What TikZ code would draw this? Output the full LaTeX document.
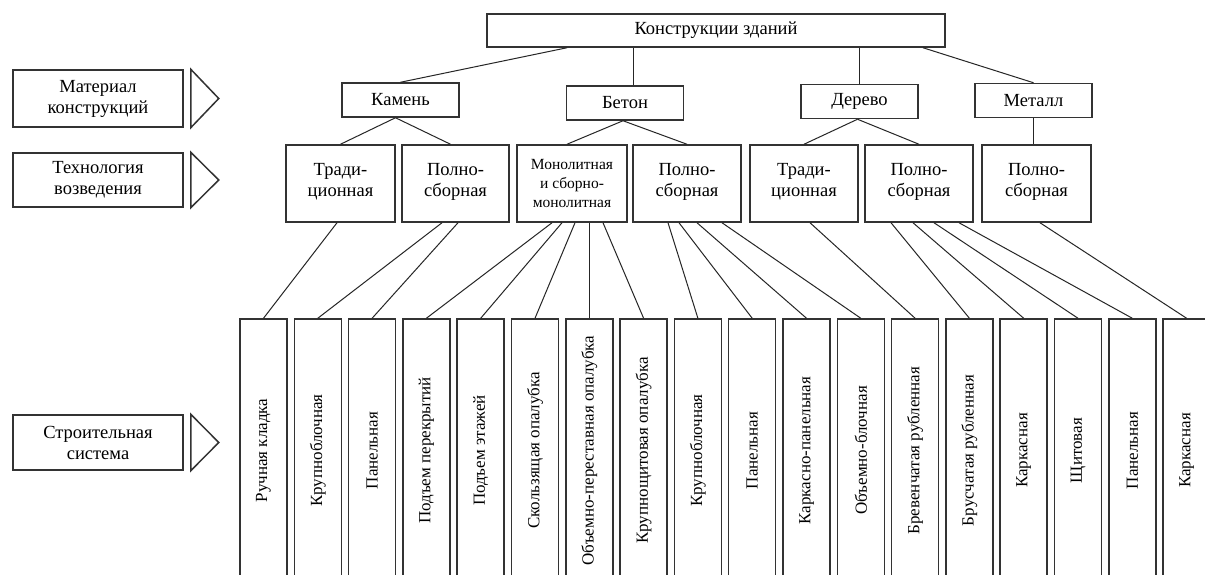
\documentclass[tikz,border=0pt]{standalone}
\usepackage{fontspec}
\usepackage{graphicx}
\setmainfont{Liberation Serif}
\usetikzlibrary{calc}
\begin{document}
\begin{tikzpicture}[x=1pt,y=-1pt,
  bx/.style={draw=black!80,line width=1.5pt,fill=white,inner sep=0pt,align=center,font=\fontsize{18.5}{21}\selectfont},
  ln/.style={draw=black!85,line width=1pt},
  lab/.style={bx,minimum width=170pt},
  mat/.style={bx,minimum width=117pt,minimum height=34pt},
  tech/.style={bx,minimum height=77pt},
  vt/.style={bx,minimum width=47pt,minimum height=263pt,font=\fontsize{17}{20}\selectfont},
  tri/.style={draw=black!80,line width=1.5pt}
]
\clip (0,0) rectangle (1205,575);
\fill[white] (0,0) rectangle (1205,575);

% left labels
\node[lab,minimum height=57pt] (L1) at (98,98.5) {Материал\\конструкций};
\node[lab,minimum height=54pt] (L2) at (98,180) {Технология\\возведения};
\node[lab,minimum height=55pt] (L3) at (98,442.5) {Строительная\\система};
\foreach \n in {L1,L2,L3}{
  \draw[tri] ([xshift=7pt]\n.north east) -- ([xshift=35pt]\n.east) -- ([xshift=7pt]\n.south east) -- cycle;
}

% top
\node[bx,minimum width=458pt,minimum height=33pt] (top) at (716,30.5) {Конструкции зданий};

% materials
\node[mat] (kam) at (400.5,100) {Камень};
\node[mat] (bet) at (625,103) {Бетон};
\node[mat] (der) at (859.5,101.5) {Дерево};
\node[mat] (met) at (1033.5,100.5) {Металл};

% technology
\node[tech,minimum width=109pt] (A) at (340.5,183.5) {Тради-\\ционная\\[-13pt]};
\node[tech,minimum width=107pt] (B) at (455.5,183.5) {Полно-\\сборная\\[-13pt]};
\node[tech,minimum width=110pt,font=\fontsize{15.5}{19}\selectfont] (C) at (572,183.5) {Монолитная\\и сборно-\\монолитная};
\node[tech,minimum width=108pt] (D) at (687,183.5) {Полно-\\сборная\\[-13pt]};
\node[tech,minimum width=108pt] (E) at (804,183.5) {Тради-\\ционная\\[-13pt]};
\node[tech,minimum width=108pt] (F) at (919,183.5) {Полно-\\сборная\\[-13pt]};
\node[tech,minimum width=109pt] (G) at (1036.5,183.5) {Полно-\\сборная\\[-13pt]};

% building systems
\foreach \i/\t in {1/Ручная кладка,2/Крупноблочная,3/Панельная,4/Подъем перекрытий,5/Подъем этажей,6/Скользящая опалубка,7/Объемно-переставная опалубка,8/Крупнощитовая опалубка,9/Крупноблочная,10/Панельная,11/Каркасно-панельная,12/Объемно-блочная,13/Бревенчатая рубленная,14/Брусчатая рубленная,15/Каркасная,16/Щитовая,17/Панельная,18/Каркасная}{
  \node[vt] (b\i) at ({263.5+(\i-1)*54.3},450.5) {\rotatebox{90}{\t}};
}

% top -> materials
\draw[ln] ([xshift=-149pt]top.south) -- (kam.north);
\draw[ln] ([xshift=8pt]bet.north) -- ([xshift=8pt]bet.north |- top.south);
\draw[ln] (der.north) -- (der.north |- top.south);
\draw[ln] ([xshift=207pt]top.south) -- (met.north);

% materials -> technology
\draw[ln] ([xshift=-5pt]kam.south) -- (A.north);
\draw[ln] ([xshift=-5pt]kam.south) -- ([xshift=-5pt]B.north);
\draw[ln] ([xshift=-2pt]bet.south) -- ([xshift=-5pt]C.north);
\draw[ln] ([xshift=-2pt]bet.south) -- (D.north);
\draw[ln] ([xshift=-2pt]der.south) -- (E.north);
\draw[ln] ([xshift=-2pt]der.south) -- (F.north);
\draw[ln] (met.south) -- (met.south |- G.north);

% technology -> systems
\draw[ln] ([xshift=-3.5pt]A.south) -- (b1.north);
\draw[ln] ([xshift=-13.5pt]B.south) -- (b2.north);
\draw[ln] ([xshift=2.5pt]B.south) -- (b3.north);
\draw[ln] ([xshift=-20pt]C.south) -- (b4.north);
\draw[ln] ([xshift=-10pt]C.south) -- (b5.north);
\draw[ln] ([xshift=3pt]C.south) -- (b6.north);
\draw[ln] (b7.north) -- (b7.north |- C.south);
\draw[ln] ([xshift=31pt]C.south) -- (b8.north);
\draw[ln] ([xshift=-19pt]D.south) -- (b9.north);
\draw[ln] ([xshift=-8pt]D.south) -- (b10.north);
\draw[ln] ([xshift=10pt]D.south) -- (b11.north);
\draw[ln] ([xshift=35pt]D.south) -- (b12.north);
\draw[ln] ([xshift=6pt]E.south) -- (b13.north);
\draw[ln] ([xshift=-28pt]F.south) -- (b14.north);
\draw[ln] ([xshift=-6pt]F.south) -- (b15.north);
\draw[ln] ([xshift=15pt]F.south) -- (b16.north);
\draw[ln] ([xshift=40pt]F.south) -- (b17.north);
\draw[ln] ([xshift=3.5pt]G.south) -- (b18.north);
\end{tikzpicture}
\end{document}
